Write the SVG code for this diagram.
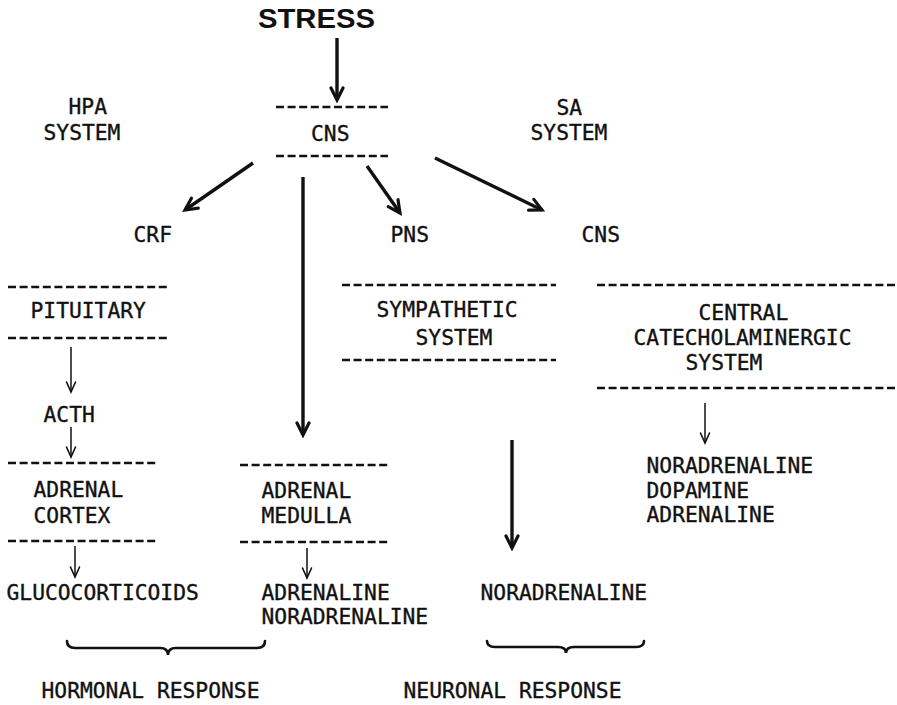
<svg xmlns="http://www.w3.org/2000/svg" width="897" height="705" viewBox="0 0 897 705">
  <defs>
    <style>
      .t { font-family: "DejaVu Sans Mono", "Liberation Mono", monospace; font-size: 21.3px; fill: #111; stroke: #111; stroke-width: 0.35px; }
      .title { font-family: "Liberation Sans", Arial, sans-serif; font-weight: bold; font-size: 27px; fill: #111; }
      .dash { stroke: #111; stroke-width: 2.6; stroke-dasharray: 8 3.6; fill: none; }
      .thick { stroke: #111; stroke-width: 3.4; fill: none; marker-end: url(#headThick); }
      .thin { stroke: #111; stroke-width: 1.5; fill: none; marker-end: url(#headThin); }
      .brace { stroke: #111; stroke-width: 2.6; fill: none; stroke-linecap: round; }
    </style>
    <marker id="headThick" markerUnits="userSpaceOnUse" markerWidth="18" markerHeight="18" viewBox="-15 -9 18 18" refX="0" refY="0" orient="auto">
      <path d="M-12,-6 L0,0 L-12,6" fill="none" stroke="#111" stroke-width="3.2" stroke-linecap="round"/>
    </marker>
    <marker id="headThin" markerUnits="userSpaceOnUse" markerWidth="14" markerHeight="14" viewBox="-12 -7 14 14" refX="0" refY="0" orient="auto">
      <path d="M-10,-4.5 L0,0 L-10,4.5" fill="none" stroke="#111" stroke-width="1.6" stroke-linecap="round"/>
    </marker>
  </defs>
  <rect width="897" height="705" fill="#fff"/>

  <g id="stress"><text class="title" x="258" y="28" textLength="117" lengthAdjust="spacingAndGlyphs">STRESS</text></g>

  <g id="hpa-label">
    <text class="t" x="68.5" y="114">HPA</text>
    <text class="t" x="43.5" y="140">SYSTEM</text>
  </g>
  <g id="sa-label">
    <text class="t" x="556.5" y="115">SA</text>
    <text class="t" x="530.5" y="140">SYSTEM</text>
  </g>

  <g id="cns">
    <line class="dash" x1="276" y1="107" x2="388" y2="107"/>
    <text class="t" x="311" y="141">CNS</text>
    <line class="dash" x1="276" y1="156" x2="388" y2="156"/>
  </g>

  <g id="crf"><text class="t" x="133.5" y="242">CRF</text></g>
  <g id="pns"><text class="t" x="390.5" y="242">PNS</text></g>
  <g id="cns-sa"><text class="t" x="581.5" y="242">CNS</text></g>

  <g id="pituitary">
    <line class="dash" x1="8" y1="287" x2="170" y2="287"/>
    <text class="t" x="30.5" y="318">PITUITARY</text>
    <line class="dash" x1="8" y1="338" x2="170" y2="338"/>
  </g>
  <g id="acth"><text class="t" x="43.5" y="422">ACTH</text></g>
  <g id="adrenal-cortex">
    <line class="dash" x1="8" y1="463" x2="157" y2="463"/>
    <text class="t" x="33.5" y="497">ADRENAL</text>
    <text class="t" x="33.5" y="523">CORTEX</text>
    <line class="dash" x1="8" y1="541" x2="157" y2="541"/>
  </g>
  <g id="glucocorticoids"><text class="t" x="6.5" y="600">GLUCOCORTICOIDS</text></g>

  <g id="adrenal-medulla">
    <line class="dash" x1="240" y1="465" x2="388" y2="465"/>
    <text class="t" x="261.5" y="498">ADRENAL</text>
    <text class="t" x="261.5" y="523">MEDULLA</text>
    <line class="dash" x1="240" y1="542" x2="388" y2="542"/>
  </g>
  <g id="medulla-output">
    <text class="t" x="261.5" y="600">ADRENALINE</text>
    <text class="t" x="261.5" y="624">NORADRENALINE</text>
  </g>

  <g id="sympathetic">
    <line class="dash" x1="342" y1="285" x2="556" y2="285"/>
    <text class="t" x="376.5" y="317">SYMPATHETIC</text>
    <text class="t" x="415.5" y="345">SYSTEM</text>
    <line class="dash" x1="342" y1="360" x2="556" y2="360"/>
  </g>
  <g id="neuronal-output"><text class="t" x="480.5" y="600">NORADRENALINE</text></g>

  <g id="central">
    <line class="dash" x1="597" y1="285" x2="897" y2="285"/>
    <text class="t" x="698.5" y="320">CENTRAL</text>
    <text class="t" x="633.5" y="345">CATECHOLAMINERGIC</text>
    <text class="t" x="685.5" y="370">SYSTEM</text>
    <line class="dash" x1="597" y1="388" x2="897" y2="388"/>
  </g>
  <g id="central-output">
    <text class="t" x="646.5" y="473">NORADRENALINE</text>
    <text class="t" x="646.5" y="498">DOPAMINE</text>
    <text class="t" x="646.5" y="522">ADRENALINE</text>
  </g>

  <g id="hormonal-response">
    <path class="brace" d="M67,641 Q67,648 75,648 L160,648 Q168,648 168,655 Q168,648 176,648 L257,648 Q265,648 265,641"/>
    <text class="t" x="41.5" y="698">HORMONAL RESPONSE</text>
  </g>
  <g id="neuronal-response">
    <path class="brace" d="M487,641 Q487,647 495,647 L558,647 Q566,647 566,653 Q566,647 574,647 L636,647 Q644,647 644,641"/>
    <text class="t" x="403.5" y="698">NEURONAL RESPONSE</text>
  </g>

  <g id="connectors">
    <line class="thick" x1="337" y1="38" x2="337" y2="100"/>
    <line class="thick" x1="253" y1="163" x2="185" y2="210"/>
    <line class="thick" x1="303" y1="177" x2="303" y2="435"/>
    <line class="thick" x1="367" y1="166" x2="400" y2="213"/>
    <line class="thick" x1="435" y1="158" x2="542" y2="210"/>
    <line class="thick" x1="512" y1="440" x2="512" y2="548"/>
    <line class="thin" x1="71" y1="347" x2="71" y2="392"/>
    <line class="thin" x1="71" y1="427" x2="71" y2="457"/>
    <line class="thin" x1="75" y1="546" x2="75" y2="577"/>
    <line class="thin" x1="307" y1="548" x2="307" y2="578"/>
    <line class="thin" x1="705" y1="403" x2="705" y2="443"/>
  </g>
</svg>
